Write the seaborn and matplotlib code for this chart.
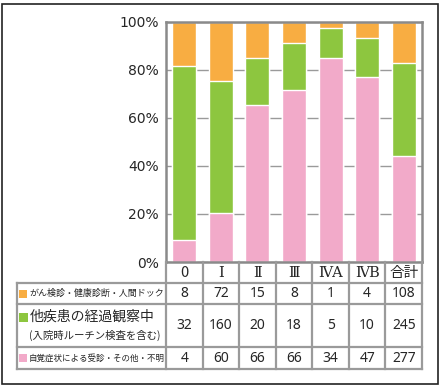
import numpy as np
import pandas as pd
import matplotlib.pyplot as plt
import seaborn as sns
from matplotlib.patches import Rectangle

# stage categories and counts per reason of detection
stages = ['0', 'Ⅰ', 'Ⅱ', 'Ⅲ', 'ⅣA', 'ⅣB', '合計']
screening = [8, 72, 15, 8, 1, 4, 108]          # がん検診・健康診断・人間ドック
followup = [32, 160, 20, 18, 5, 10, 245]       # 他疾患の経過観察中
symptoms = [4, 60, 66, 66, 34, 47, 277]        # 自覚症状による受診・その他・不明

row_labels_1 = 'がん検診・健康診断・人間ドック'
row_labels_2a = '他疾患の経過観察中'
row_labels_2b = '(入院時ルーチン検査を含む)'
row_labels_3 = '自覚症状による受診・その他・不明'

ORANGE = '#F8AD42'
GREEN = '#8DC63F'
PINK = '#F2AAC9'
GRID = '#9a9a9a'

sns.set_style('white')
plt.rcParams['font.family'] = ['Noto Sans CJK JP', 'DejaVu Sans']

df = pd.DataFrame({'stage': stages, 'screening': screening,
                   'followup': followup, 'symptoms': symptoms})
total = df[['screening', 'followup', 'symptoms']].sum(axis=1)
df['pink'] = df['symptoms'] / total * 100
df['green'] = df['pink'] + df['followup'] / total * 100
df['orange'] = df['green'] + df['screening'] / total * 100

W, H = 442, 390
fig = plt.figure(figsize=(W / 100, H / 100), dpi=100)
fig.patch.set_facecolor('white')

# chart area
ax = fig.add_axes([166 / W, 1 - 262 / H, 256 / W, 240 / H])
for col, c in [('orange', ORANGE), ('green', GREEN), ('pink', PINK)]:
    sns.barplot(data=df, x='stage', y=col, color=c, saturation=1,
                width=0.66, ax=ax, zorder=2)
ax.set_xlim(-0.5, 6.5)
ax.set_ylim(0, 100)
ax.set_yticks(np.arange(0, 101, 20))
ax.set_yticklabels([f'{v}%' for v in range(0, 101, 20)], family='DejaVu Sans')
ax.yaxis.grid(True, color=GRID, lw=1)
ax.set_axisbelow(True)
ax.tick_params(axis='y', length=3, color=GRID, labelsize=10, pad=2)
ax.set_xticks(range(len(stages)))
ax.set_xticklabels(stages, fontsize=10.5,
                   family=['DejaVu Serif', 'Noto Sans CJK JP'])
ax.get_xticklabels()[0].set_family('Noto Sans CJK JP')
ax.tick_params(axis='x', length=0, pad=3)
ax.set_xlabel('')
ax.set_ylabel('')
for s in ax.spines.values():
    s.set_color('#8a8a8a')
    s.set_linewidth(1.8)

# data table under the chart
unit = 256 / 7
lab_w = 149 / unit
tax = fig.add_axes([17 / W, 1 - 369 / H, (422 - 17) / W, (369 - 262) / H])
tax.set_xlim(-0.5 - lab_w, 6.5)
tax.set_ylim(107, 0)
tax.axis('off')
xl = -0.5 - lab_w
lkw = dict(color=GRID, lw=1.6, clip_on=False, solid_capstyle='projecting')
for y in [21, 42, 85, 107]:
    tax.plot([xl, 6.5], [y, y], **lkw)
tax.plot([xl, xl], [21, 107], **lkw)
for x in np.arange(-0.5, 7, 1):
    tax.plot([x, x], [0, 107], **lkw)

rows = [(screening, 31.5), (followup, 63.5), (symptoms, 96)]
for vals, yc in rows:
    for i, v in enumerate(vals):
        tax.text(i, yc, str(v), ha='center', va='center', fontsize=10,
                 family=['Noto Sans', 'DejaVu Sans'])

px = 1 / unit
for yc, c, sz in [(31.5, ORANGE, 8), (55, GREEN, 9), (96, PINK, 8)]:
    tax.add_patch(Rectangle((xl + 2 * px, yc - sz / 2), sz * px, sz,
                            facecolor=c, edgecolor='none', clip_on=False))
tax.text(xl + 12 * px, 31.5, row_labels_1, ha='left', va='center', fontsize=6.5)
tax.text(xl + 13 * px, 54.5, row_labels_2a, ha='left', va='center', fontsize=10)
tax.text(xl + 12 * px, 73.5, row_labels_2b, ha='left', va='center', fontsize=7.5)
tax.text(xl + 12 * px, 96, row_labels_3, ha='left', va='center', fontsize=6.1)

# outer frame
fig.patches.append(Rectangle((2 / W, 1 - 384 / H), 436 / W, 380 / H,
                             transform=fig.transFigure, fill=False,
                             edgecolor='#222222', lw=1.2))

fig.savefig('out.png', dpi=100)
